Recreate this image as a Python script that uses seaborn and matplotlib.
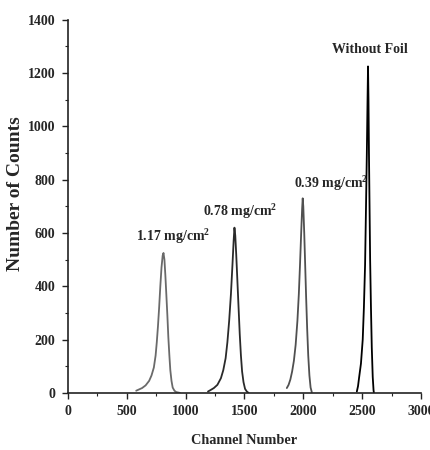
import numpy as np
import pandas as pd
import matplotlib
matplotlib.use("Agg")
import matplotlib.pyplot as plt
from matplotlib.ticker import MultipleLocator
import seaborn as sns

# Peak data
p117_x = [580, 600, 630, 660, 690, 710, 730, 745, 755, 765, 775, 785, 795, 805, 812, 820, 828, 836, 845, 853, 862, 870, 880, 890, 905, 920, 950]
p117_y = [8, 12, 18, 28, 45, 65, 95, 140, 190, 250, 320, 400, 470, 515, 525, 500, 440, 370, 290, 210, 140, 85, 45, 20, 8, 3, 0]

p078_x = [1190, 1210, 1240, 1270, 1300, 1320, 1340, 1355, 1370, 1385, 1398, 1408, 1415, 1422, 1430, 1440, 1450, 1460, 1470, 1480, 1492, 1505, 1520, 1535]
p078_y = [5, 10, 18, 30, 55, 85, 130, 190, 270, 370, 480, 570, 620, 590, 520, 420, 320, 220, 140, 80, 40, 15, 5, 0]

p039_x = [1860, 1875, 1890, 1905, 1920, 1935, 1950, 1962, 1972, 1982, 1990, 1995, 2000, 2008, 2016, 2024, 2033, 2042, 2052, 2062, 2072]
p039_y = [18, 30, 50, 80, 120, 180, 270, 370, 480, 600, 690, 730, 700, 600, 480, 360, 240, 140, 65, 20, 3]

p000_x = [2455, 2465, 2475, 2490, 2505, 2515, 2525, 2533, 2540, 2546, 2550, 2554, 2558, 2563, 2568, 2575, 2582, 2590, 2597, 2600]
p000_y = [5, 25, 60, 110, 200, 320, 480, 700, 900, 1100, 1225, 1100, 900, 700, 500, 320, 170, 60, 10, 0]

series_names = ["1.17", "0.78", "0.39", "none"]
labels = ["1.17 mg/cm$^{\\mathbf{2}}$", "0.78 mg/cm$^{\\mathbf{2}}$", "0.39 mg/cm$^{\\mathbf{2}}$", "Without Foil"]
label_x = [893, 1465, 2240, 2567]
label_y = [585, 680, 785, 1290]

frames = []
for name, xs, ys in zip(series_names, [p117_x, p078_x, p039_x, p000_x], [p117_y, p078_y, p039_y, p000_y]):
    frames.append(pd.DataFrame({"Channel": xs, "Counts": ys, "Sample": name}))
df = pd.concat(frames, ignore_index=True)

sns.set_style("ticks")
plt.rcParams["font.family"] = ["Liberation Serif", "DejaVu Serif"]
plt.rcParams["font.weight"] = "bold"
plt.rcParams["mathtext.fontset"] = "custom"
plt.rcParams["mathtext.rm"] = "Liberation Serif:bold"
plt.rcParams["mathtext.bf"] = "Liberation Serif:bold"
plt.rcParams["mathtext.it"] = "Liberation Serif:bold"

fig = plt.figure(figsize=(4.3, 4.5), dpi=100)
ax = fig.add_axes([0.158, 0.127, 0.821, 0.829])

palette = {"1.17": "#6a6a6a", "0.78": "#2a2a2a", "0.39": "#505050", "none": "#000000"}
sns.lineplot(data=df, x="Channel", y="Counts", hue="Sample", palette=palette,
             legend=False, ax=ax, linewidth=1.3, estimator=None, sort=False)

ax.set_xlim(0, 3000)
ax.set_ylim(0, 1400)
ax.xaxis.set_major_locator(MultipleLocator(500))
ax.xaxis.set_minor_locator(MultipleLocator(250))
ax.yaxis.set_major_locator(MultipleLocator(200))
ax.yaxis.set_minor_locator(MultipleLocator(100))
ax.tick_params(which="major", length=4, width=1, labelsize=10, direction="out", color="#222", pad=5)
ax.tick_params(which="minor", length=2.5, width=0.8, direction="out", color="#222")
for lab in ax.get_xticklabels() + ax.get_yticklabels():
    lab.set_fontweight("bold")
for s in ["top", "right"]:
    ax.spines[s].set_visible(False)
for s in ["left", "bottom"]:
    ax.spines[s].set_linewidth(1.2)
    ax.spines[s].set_color("#222")

ax.set_xlabel("Channel Number", fontsize=10.3, fontweight="bold", va="center")
ax.xaxis.set_label_coords(0.5, -0.129)
ax.set_ylabel("Number of Counts", fontsize=14, fontweight="bold", va="center")
ax.yaxis.set_label_coords(-0.148, 0.534)

for t, x, y in zip(labels, label_x, label_y):
    ax.text(x, y, t, fontsize=10, fontweight="bold", ha="center", va="center")

fig.savefig("out.png", dpi=100)
